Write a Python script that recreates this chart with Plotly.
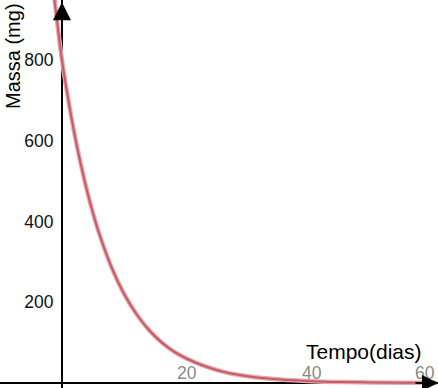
import plotly.graph_objects as go

# Data (time in days, mass in mg)
tempo = [-1.5, -1.2, 0, 1, 2, 3, 4, 5, 6, 8, 10, 12, 14, 16, 18, 20, 23, 26, 30, 35, 40, 45, 50, 55, 60]
massa = [985, 950, 800, 703, 617, 543, 477, 419, 368, 284, 219, 169, 130, 100, 77, 60, 41, 27, 16, 8.5, 4.4, 2.3, 1.2, 0.6, 0.3]

y_ticks = [200, 400, 600, 800]
x_ticks = [20, 40, 60]
x_tick_labels = ["20", "40", "60"]

x_range = [-9.92, 60.2]
y_range = [-12.4, 948.6]

FONT = "Liberation Sans, Arial, sans-serif"

fig = go.Figure()
fig.add_trace(go.Scatter(x=tempo, y=massa, mode="lines", line=dict(color="#e6a9ae", width=4.5, shape="spline"),
                         hoverinfo="skip", showlegend=False))
fig.add_trace(go.Scatter(x=tempo, y=massa, mode="lines", line=dict(color="#c65c67", width=2, shape="spline"),
                         showlegend=False))

y_pos = (0 - y_range[0]) / (y_range[1] - y_range[0])
x_pos = (0 - x_range[0]) / (x_range[1] - x_range[0])

fig.update_layout(
    width=438, height=388,
    margin=dict(l=0, r=0, t=0, b=0, autoexpand=False),
    paper_bgcolor="white", plot_bgcolor="white",
    font=dict(family=FONT, color="black"),
    xaxis=dict(range=x_range, domain=[0, 1], anchor="free", position=y_pos, automargin=False,
               showline=True, linecolor="black", linewidth=2, showgrid=False, zeroline=False,
               showticklabels=False, ticks="", layer="below traces"),
    yaxis=dict(range=y_range, domain=[0, 1], anchor="free", position=x_pos, automargin=False,
               showline=True, linecolor="black", linewidth=2, showgrid=False, zeroline=False,
               tickvals=y_ticks, ticks="", tickfont=dict(size=17.5, color="#111"),
               ticklabelstandoff=4, layer="below traces"),
)

# x tick labels (grey, sitting just above the axis)
for v, lab in zip(x_ticks, x_tick_labels):
    fig.add_annotation(x=v, y=0, text=lab, showarrow=False, yanchor="bottom",
                       xanchor="right" if v == x_ticks[-1] else "center",
                       yshift=-2, font=dict(size=17.5, color="#8a8a8a"))

# axis arrows
fig.add_annotation(x=0, y=943, ax=0, ay=24, text="", showarrow=True, arrowhead=2,
                   arrowsize=1.8, arrowwidth=2, arrowcolor="black", standoff=0)
fig.add_annotation(x=60.2, y=0, ax=-24, ay=0, text="", showarrow=True, arrowhead=2,
                   arrowsize=1.6, arrowwidth=2, arrowcolor="black", standoff=0)

# axis titles
fig.add_annotation(xref="paper", yref="paper", x=0.0, y=1.0, xanchor="left", yanchor="top",
                   xshift=0, yshift=-1, text="Massa (mg)", textangle=-90, showarrow=False,
                   font=dict(size=20, color="black"))
fig.add_annotation(x=60.2, y=0, xanchor="right", yanchor="bottom", yshift=18, xshift=-14,
                   text="Tempo(dias)", showarrow=False, font=dict(size=21, color="black"))

fig.write_html("out.html", config={"displayModeBar": False},
               post_script="document.body.style.margin='0';document.body.style.overflow='hidden';")
